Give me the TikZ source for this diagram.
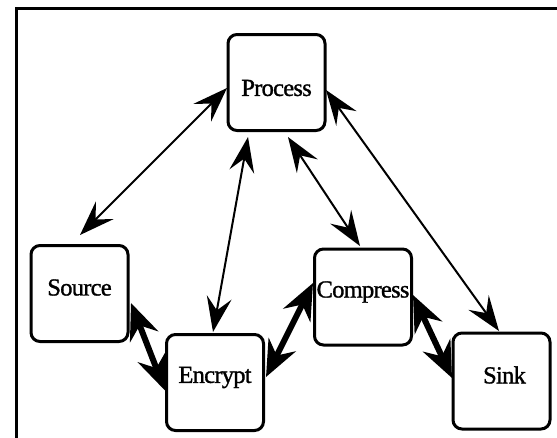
\documentclass[tikz,border=0pt]{standalone}
\usepackage{fontspec}
\setmainfont{Liberation Serif}
\newfontfamily\lblfont[LetterSpace=-3,FakeBold=1.2]{Liberation Serif}
\usetikzlibrary{arrows.meta}
\tikzset{
  box/.style={draw=black, line width=3pt, rounded corners=9pt, fill=white,
    minimum width=97pt, minimum height=96pt, inner sep=0pt},
  txt/.style={font=\lblfont\fontsize{24.5}{27}\selectfont},
  thinarrow/.style={line width=2pt, {Stealth[length=35pt,width=25pt,inset=13pt]}-{Stealth[length=35pt,width=25pt,inset=13pt]}},
  thickarrow/.style={line width=6pt, {Stealth[length=36pt,width=30pt,inset=12pt]}-{Stealth[length=36pt,width=30pt,inset=12pt]}}
}
\begin{document}
\begin{tikzpicture}[x=1pt,y=-1pt]
\useasboundingbox (0,0) rectangle (557,437);
\clip (0,0) rectangle (557,437);
\fill[white] (0,0) rectangle (557,437);
\draw[line width=3pt] (16,8) rectangle (600,480);

\node[box, label={[txt,yshift=-5.5pt]center:Process}] (proc) at (276.5,82.5) {};
\node[box, label={[txt,yshift=6pt]center:Source}] (src) at (79.5,293.5) {};
\node[box, label={[txt,yshift=5pt]center:Encrypt}] (enc) at (215,382.5) {};
\node[box, label={[txt,yshift=5pt]center:Compress}] (comp) at (363,297) {};
\node[box, label={[txt,yshift=6pt,xshift=3pt]center:Sink}] (sink) at (501.5,381) {};

\draw[thinarrow] ([shift={(-49.5,5.5)}]proc.center) -- ([shift={(0.5,-58.5)}]src.center);
\draw[thinarrow] ([shift={(-28.5,54.5)}]proc.center) -- ([shift={(-2,-50.5)}]enc.center);
\draw[thinarrow] ([shift={(11.5,54.5)}]proc.center) -- ([shift={(-3,-51)}]comp.center);
\draw[thinarrow] ([shift={(49.5,7.5)}]proc.center) -- ([shift={(-2.5,-50)}]sink.center);
\draw[thickarrow] ([shift={(51.5,9.5)}]src.center) -- ([shift={(-50,8)}]enc.center);
\draw[thickarrow] ([shift={(51,-5.5)}]enc.center) -- ([shift={(-50,-14)}]comp.center);
\draw[thickarrow] ([shift={(50,-2)}]comp.center) -- ([shift={(-49.5,-3)}]sink.center);
\end{tikzpicture}
\end{document}
